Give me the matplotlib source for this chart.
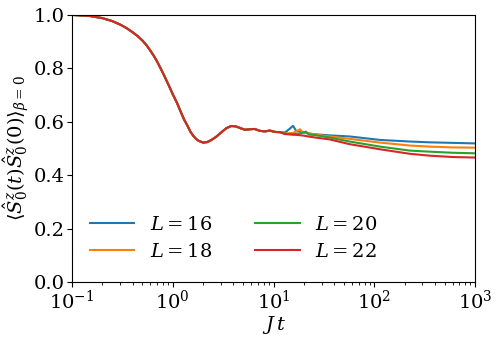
import matplotlib
matplotlib.use("Agg")
import matplotlib.pyplot as plt

plt.rcParams['font.family'] = ['DejaVu Serif']
plt.rcParams['mathtext.fontset'] = 'dejavuserif'

# shared early-time part (identical for all L)
t_common = [0.1, 0.15, 0.2, 0.25, 0.3, 0.35, 0.4, 0.45, 0.5, 0.55, 0.6, 0.65, 0.7,
            0.8, 0.9, 1.0, 1.1, 1.2, 1.3, 1.4, 1.5, 1.6, 1.7, 1.8, 2.0, 2.2, 2.4,
            2.7, 3.0, 3.4, 3.8, 4.2, 4.7, 5.2, 5.8, 6.5, 7.3, 8.2, 9.2, 10.3, 11.6]
v_common = [1.0, 0.996, 0.988, 0.977, 0.964, 0.950, 0.935, 0.920, 0.904, 0.886, 0.866,
            0.846, 0.825, 0.782, 0.741, 0.703, 0.671, 0.637, 0.607, 0.585, 0.562, 0.547,
            0.536, 0.529, 0.522, 0.524, 0.531, 0.544, 0.559, 0.576, 0.584, 0.583, 0.576,
            0.570, 0.572, 0.573, 0.566, 0.564, 0.567, 0.562, 0.561]

# late-time parts per system size
t_16 = [13.0, 14.6, 15.6, 16.8, 19.0, 22.0, 26.0, 36.0, 57.0, 114.0, 226.0, 357.0, 600.0, 1000.0]
v_16 = [0.560, 0.575, 0.585, 0.565, 0.562, 0.556, 0.553, 0.549, 0.545, 0.532, 0.526, 0.523, 0.521, 0.519]

t_18 = [13.0, 15.6, 17.0, 18.3, 19.5, 22.0, 26.0, 36.0, 57.0, 114.0, 226.0, 357.0, 600.0, 1000.0]
v_18 = [0.556, 0.558, 0.565, 0.572, 0.560, 0.558, 0.552, 0.545, 0.536, 0.522, 0.511, 0.507, 0.504, 0.503]

t_20 = [13.0, 16.0, 18.3, 20.9, 22.5, 26.0, 36.0, 57.0, 114.0, 226.0, 357.0, 600.0, 1000.0]
v_20 = [0.555, 0.554, 0.556, 0.563, 0.552, 0.550, 0.541, 0.526, 0.507, 0.492, 0.488, 0.484, 0.482]

t_22 = [13.0, 15.0, 18.0, 20.0, 22.0, 26.0, 36.0, 57.0, 114.0, 226.0, 357.0, 600.0, 1000.0]
v_22 = [0.554, 0.552, 0.550, 0.548, 0.545, 0.541, 0.534, 0.516, 0.497, 0.480, 0.473, 0.468, 0.466]

sizes = [16, 18, 20, 22]
tails_t = [t_16, t_18, t_20, t_22]
tails_v = [v_16, v_18, v_20, v_22]
colors = ['#1f77b4', '#ff7f0e', '#2ca02c', '#d62728']

fig = plt.figure(figsize=(4.98, 3.39), dpi=100)
ax = fig.add_axes([0.1446, 0.168, 0.954 - 0.1446, 0.956 - 0.168])

for L, tt, vv, c in zip(sizes, tails_t, tails_v, colors):
    ax.plot(t_common + tt, v_common + vv, color=c, lw=1.5, label=f'$L={L}$')

ax.set_xscale('log')
ax.set_xlim(0.1, 1000)
ax.set_ylim(0, 1.0)
ax.set_yticks([0, 0.2, 0.4, 0.6, 0.8, 1.0])
ax.tick_params(labelsize=14, pad=2)
ax.set_xlabel(r'$J\,t$', fontsize=14, labelpad=1)
ax.set_ylabel(r'$\langle \hat{S}^z_0(t)\hat{S}^z_0(0)\rangle_{\beta=0}$', fontsize=14, labelpad=1)
ax.legend(ncol=2, frameon=False, fontsize=14, loc='lower left',
          bbox_to_anchor=(0.0, 0.015), handlelength=2.3, handletextpad=0.8,
          columnspacing=2.2, labelspacing=0.45)

fig.savefig('out.png', dpi=100)
